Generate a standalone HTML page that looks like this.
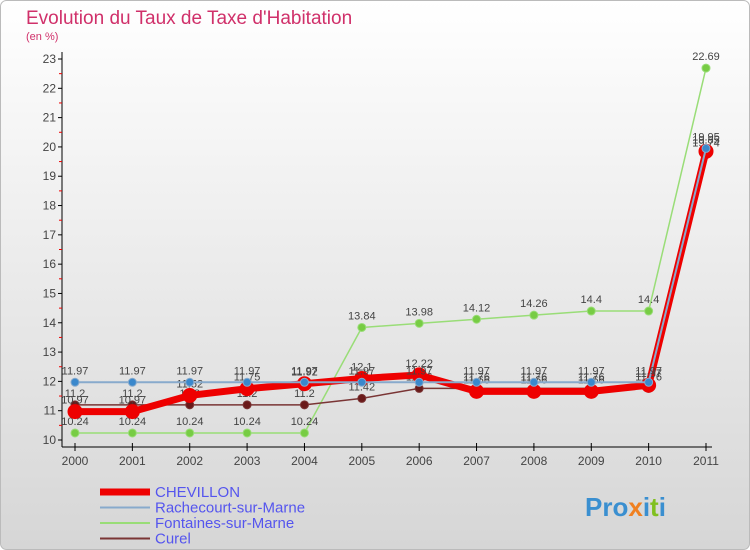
<!DOCTYPE html>
<html><head><meta charset="utf-8"><style>
body{margin:0;}
svg{display:block;font-family:"Liberation Sans",sans-serif;}
</style></head><body>
<svg id="c" width="750" height="550">
<defs>
<linearGradient id="bg" x1="0" y1="0" x2="0" y2="1"><stop offset="0" stop-color="#ffffff"/><stop offset="1" stop-color="#d6d6d6"/></linearGradient>
</defs>
<rect x="0.5" y="0.5" width="749" height="549" rx="6" fill="url(#bg)" stroke="#bbb"/>
<text x="26" y="24" font-size="19" fill="#d0306a">Evolution du Taux de Taxe d'Habitation</text>
<text x="26" y="40" font-size="11" fill="#d0306a">(en %)</text>
<g id="axes"></g>
<g id="series"></g>
<g id="legend"></g>
<text x="585" y="516" font-size="26" font-weight="bold" fill="#3a8fd0">Pro<tspan fill="#f08020">x</tspan><tspan fill="#3a8fd0">i</tspan><tspan fill="#80c020">t</tspan><tspan fill="#3a8fd0">i</tspan></text>
</svg>
<script>
const years=[2000,2001,2002,2003,2004,2005,2006,2007,2008,2009,2010,2011];
const yTicks=[10,11,12,13,14,15,16,17,18,19,20,21,22,23];
const chevillon=[10.97,10.97,11.52,11.75,11.92,12.1,12.22,11.66,11.66,11.66,11.87,19.85];
const rachecourt=[11.97,11.97,11.97,11.97,11.97,11.97,11.97,11.97,11.97,11.97,11.97,19.95];
const fontaines=[10.24,10.24,10.24,10.24,10.24,13.84,13.98,14.12,14.26,14.4,14.4,22.69];
const curel=[11.2,11.2,11.2,11.2,11.2,11.42,11.76,11.76,11.76,11.76,11.76,19.74];
const NS="http://www.w3.org/2000/svg";
const xs=i=>75+i*(706-75)/11;
const ys=v=>440-(v-10)*(440-59)/13;
function mk(t,a,p){const e=document.createElementNS(NS,t);for(const k in a)e.setAttribute(k,a[k]);p.appendChild(e);return e;}
const ax=document.getElementById('axes');
const yl=mk('line',{x1:62,y1:52,x2:62,y2:447,stroke:'#000'},ax);


const xl=mk('line',{x1:62,y1:447,x2:712,y2:447,stroke:'#000'},ax);


yTicks.forEach(v=>{
  mk('line',{x1:58,y1:ys(v),x2:62,y2:ys(v),stroke:'#000'},ax);
  if(v<23)mk('line',{x1:59,y1:ys(v+0.5),x2:62,y2:ys(v+0.5),stroke:'#e00'},ax);
  const t=mk('text',{x:56,y:ys(v)+4,'font-size':12,'text-anchor':'end',fill:'#444'},ax);
  t.textContent=v;
  
  
});
years.forEach((y,i)=>{
  mk('line',{x1:xs(i),y1:443,x2:xs(i),y2:451,stroke:'#000'},ax);
  const t=mk('text',{x:xs(i),y:465,'font-size':12,'text-anchor':'middle',fill:'#444'},ax);
  t.textContent=y;
  
  
});
const sg=document.getElementById('series');
function series(vals,color,w,r,dot,name){
  const g=mk('g',{},sg);
  
  
  mk('polyline',{points:vals.map((v,i)=>xs(i)+','+ys(v)).join(' '),fill:'none',stroke:color,'stroke-width':w,'stroke-linejoin':'round'},g);
  vals.forEach((v,i)=>{
    const c=mk('circle',{cx:xs(i),cy:ys(v),r:r,fill:dot,stroke:color,'stroke-width':1},g);
    
    
    const t=mk('text',{x:xs(i),y:ys(v)-8,'font-size':11,'text-anchor':'middle',fill:'#444'},g);
    t.textContent=String(v);
  });
}
series(fontaines,'#99dd77',1.5,4,'#77cc44','fontaines-series');
series(curel,'#7a3535',1.5,4,'#6a1a1a','curel-series');
series(chevillon,'#ee0000',7,7,'#ee0000','chevillon-series');
series(rachecourt,'#88aacc',2,4,'#3a88cc','rachecourt-series');
const lg=document.getElementById('legend');
const items=[['CHEVILLON','#ee0000',7],['Rachecourt-sur-Marne','#88aacc',2],['Fontaines-sur-Marne','#99dd77',2],['Curel','#7a3535',2]];
items.forEach((it,k)=>{
  const g=mk('g',{},lg);
  
  
  const y=492+k*15.5;
  mk('line',{x1:100,y1:y,x2:150,y2:y,stroke:it[1],'stroke-width':it[2]},g);
  const t=mk('text',{x:155,y:y+5,'font-size':15,fill:'#5555ee'},g);
  t.textContent=it[0];
});
</script>
</body></html>
